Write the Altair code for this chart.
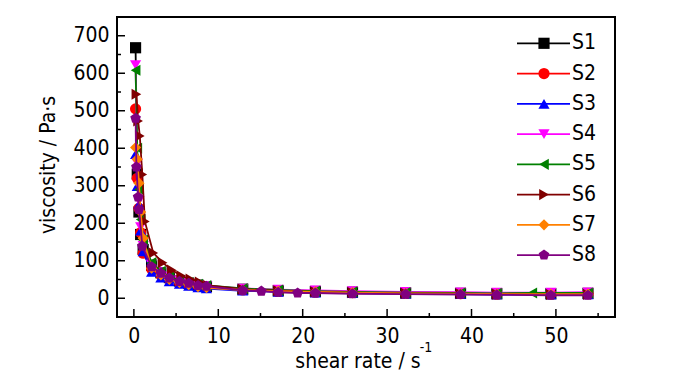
import altair as alt
import pandas as pd

FONT = "DejaVu Sans Condensed, Liberation Sans Narrow, Liberation Sans, Arial, sans-serif"

series = ["S1", "S2", "S3", "S4", "S5", "S6", "S7", "S8"]
colors = ["#000000", "#FF0000", "#0000FF", "#FF00FF", "#008000", "#800000", "#FF8000", "#800080"]
PENT = "M0,-1L0.951,-0.309L0.588,0.809L-0.588,0.809L-0.951,-0.309Z"
shapes = ["square", "circle", "triangle-up", "triangle-down", "triangle-left",
          "triangle-right", "diamond", PENT]

# shear rate values (s^-1)
x_common = [0.2, 0.4, 0.6, 0.8, 1.1, 2.1, 3.2, 4.2, 5.4, 6.5, 7.6, 8.6,
            12.9, 17.1, 21.5, 25.9, 32.2, 38.7, 43.0, 49.4, 53.8]
x_s5 = [0.2, 0.4, 0.6, 0.8, 1.1, 2.1, 3.2, 4.2, 5.4, 6.5, 7.6, 8.6,
        12.9, 17.1, 21.5, 25.9, 32.2, 38.7, 43.0, 47.2, 53.8]
x_s6 = [0.3, 0.5, 0.7, 1.0, 1.3, 2.3, 3.4, 4.5, 5.6, 6.7, 7.8, 8.8,
        12.9, 17.1, 21.5, 25.9, 32.2, 38.7, 43.0, 49.4, 53.8]
x_s8 = [0.2, 0.3, 0.5, 0.6, 1.0, 2.1, 3.2, 4.2, 5.4, 6.5, 7.6, 8.6,
        12.9, 15.1, 17.1, 19.4, 21.5, 25.9, 32.2, 38.7, 43.0, 49.4, 53.8]

# viscosity values (Pa·s)
y_s1 = [668, 331, 230, 170, 130, 88, 68, 55, 46, 40, 35, 31, 24, 20, 18, 16, 14, 13, 12, 12, 13]
y_s2 = [505, 320, 240, 175, 120, 78, 62, 50, 42, 36, 32, 29, 22, 18, 16, 15, 13, 12, 11, 11, 12]
y_s3 = [384, 299, 251, 180, 125, 70, 55, 45, 38, 33, 29, 26, 20, 17, 15, 14, 12, 11, 10, 10, 10]
y_s4 = [622, 360, 260, 190, 140, 90, 70, 57, 48, 41, 36, 33, 26, 23, 21, 19, 17, 16, 15, 15, 16]
y_s5 = [608, 400, 290, 210, 155, 95, 72, 58, 48, 42, 37, 34, 26, 22, 19, 17, 15, 14, 13, 14, 14]
y_s6 = [544, 473, 433, 330, 205, 121, 95, 75, 60, 51, 43, 34, 24, 20, 17, 15, 13, 12, 11, 10, 10]
y_s7 = [402, 371, 307, 230, 160, 80, 62, 50, 42, 36, 31, 28, 22, 19, 17, 15, 13, 12, 11, 11, 11]
y_s8 = [480, 350, 270, 237, 139, 84, 67, 54, 45, 40, 34, 32, 21, 19, 16, 14, 14, 12, 11, 10, 9, 8, 8]

x_lists = [x_common, x_common, x_common, x_common, x_s5, x_s6, x_common, x_s8]
y_lists = [y_s1, y_s2, y_s3, y_s4, y_s5, y_s6, y_s7, y_s8]

x_major = [0, 10, 20, 30, 40, 50]
x_minor = [5, 15, 25, 35, 45, 55]
y_major = [0, 100, 200, 300, 400, 500, 600, 700]
y_minor = [50, 150, 250, 350, 450, 550, 650]

rows = []
for s, xs, ys in zip(series, x_lists, y_lists):
    for xv, yv in zip(xs, ys):
        rows.append({"series": s, "rate": xv, "visc": yv})
df = pd.DataFrame(rows)

W, H = 498, 300
xscale = alt.Scale(domain=[-2, 57], nice=False, zero=False)
yscale = alt.Scale(domain=[-50, 750], nice=False, zero=False)
cscale = alt.Scale(domain=series, range=colors)
sscale = alt.Scale(domain=series, range=shapes)

axis_common = dict(domain=False, ticks=False, grid=False, labelFont=FONT, labelFontSize=21,
                   labelColor="black", title=None)
XAX = alt.Axis(values=x_major, labelPadding=8, **axis_common)
YAX = alt.Axis(values=y_major, labelPadding=8, **axis_common)

MSIZE = 125
LW = 1.8

layers = []
for i, s in enumerate(series):
    sub = df[df["series"] == s]
    xenc = alt.X("rate:Q", scale=xscale, axis=XAX)
    yenc = alt.Y("visc:Q", scale=yscale, axis=YAX)
    line = alt.Chart(sub).mark_line(strokeWidth=LW).encode(
        x=xenc, y=yenc, color=alt.Color("series:N", scale=cscale, legend=None))
    pts = alt.Chart(sub).mark_point(filled=True, opacity=1, size=MSIZE).encode(
        x=xenc, y=yenc,
        color=alt.Color("series:N", scale=cscale, legend=None),
        shape=alt.Shape("series:N", scale=sscale, legend=None))
    layers += [line, pts]

# inward tick marks
def xticks(vals, length):
    return alt.Chart(pd.DataFrame({"rate": vals})).mark_rule(color="black", strokeWidth=1.5).encode(
        x=alt.X("rate:Q", scale=xscale, axis=XAX), y=alt.value(H), y2=alt.value(H - length))

def yticks(vals, length):
    return alt.Chart(pd.DataFrame({"visc": vals})).mark_rule(color="black", strokeWidth=1.5).encode(
        y=alt.Y("visc:Q", scale=yscale, axis=YAX), x=alt.value(0), x2=alt.value(length))

layers += [xticks(x_major, 8), xticks(x_minor, 4), yticks(y_major, 8), yticks(y_minor, 4)]

# legend
leg = pd.DataFrame({"series": series, "i": list(range(len(series)))})
leg_base = alt.Chart(leg).transform_calculate(ly="26.3 + 30.25*datum.i")
legend_line = leg_base.mark_rule(strokeWidth=LW).encode(
    x=alt.value(400), x2=alt.value(453), y=alt.Y("ly:Q", scale=None, axis=None),
    color=alt.Color("series:N", scale=cscale, legend=None))
legend_pts = leg_base.mark_point(filled=True, opacity=1, size=MSIZE).encode(
    x=alt.value(427), y=alt.Y("ly:Q", scale=None, axis=None),
    color=alt.Color("series:N", scale=cscale, legend=None),
    shape=alt.Shape("series:N", scale=sscale, legend=None))
legend_txt = leg_base.mark_text(align="left", baseline="middle", font=FONT, fontSize=21,
                                color="black").encode(
    x=alt.value(455), y=alt.Y("ly:Q", scale=None, axis=None), text="series:N")
layers += [legend_line, legend_pts, legend_txt]

# axis titles
xtitle = alt.Chart(pd.DataFrame({"t": ["shear rate / s"]})).mark_text(
    font=FONT, fontSize=21, color="black", align="center", baseline="alphabetic").encode(
    x=alt.value(241), y=alt.value(351), text="t:N")
sup = alt.Chart(pd.DataFrame({"t": ["-1"]})).mark_text(
    font=FONT, fontSize=14, color="black", align="center", baseline="middle").encode(
    x=alt.value(309), y=alt.value(331), text="t:N")
ytitle = alt.Chart(pd.DataFrame({"t": ["viscosity / Pa·s"]})).mark_text(
    font=FONT, fontSize=21, color="black", align="center", baseline="middle", angle=270).encode(
    x=alt.value(-68), y=alt.value(148), text="t:N")
layers += [xtitle, sup, ytitle]

chart = alt.layer(*layers).properties(
    width=W, height=H, autosize="none", background="white",
    padding={"left": 109, "top": 9, "right": 77, "bottom": 57},
).configure_view(stroke="black", strokeWidth=2)

chart.save("out.html", embed_options={"renderer": "svg", "actions": False})
